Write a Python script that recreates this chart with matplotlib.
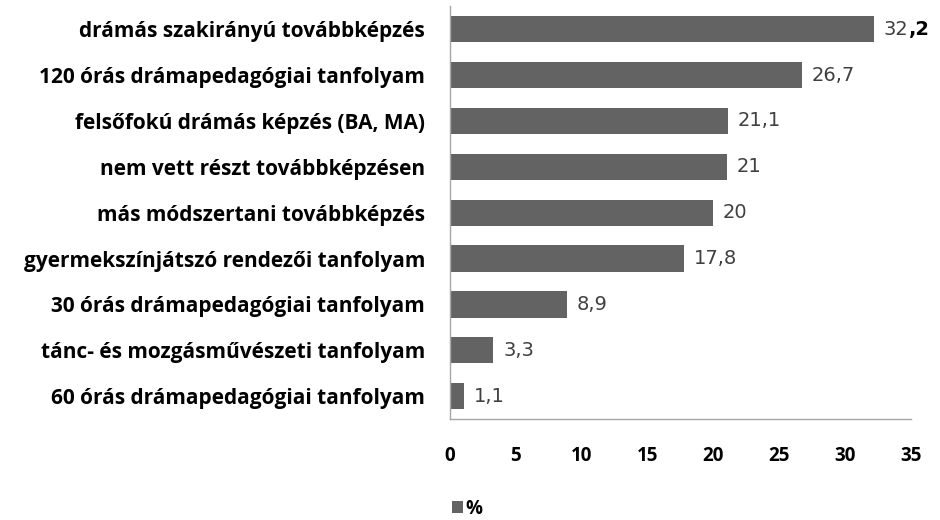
import matplotlib
matplotlib.use('Agg')
import matplotlib.pyplot as plt

# categories, top to bottom as in the chart
categories = [
    'drámás szakirányú továbbképzés',
    '120 órás drámapedagógiai tanfolyam',
    'felsőfokú drámás képzés (BA, MA)',
    'nem vett részt továbbképzésen',
    'más módszertani továbbképzés',
    'gyermekszínjátszó rendezői tanfolyam',
    '30 órás drámapedagógiai tanfolyam',
    'tánc- és mozgásművészeti tanfolyam',
    '60 órás drámapedagógiai tanfolyam',
]
values = [32.2, 26.7, 21.1, 21, 20, 17.8, 8.9, 3.3, 1.1]
value_labels = ['32,2', '26,7', '21,1', '21', '20', '17,8', '8,9', '3,3', '1,1']
xticks = [0, 5, 10, 15, 20, 25, 30, 35]

plt.rcParams['font.family'] = ['Open Sans', 'DejaVu Sans']

bar_color = '#636363'
axis_color = '#a6a6a6'
fs = 15
vfs = 14

fig = plt.figure(figsize=(9.4, 5.2), dpi=100)
ax = fig.add_axes([0.4787, 0.194, 0.4904, 0.794])

y = list(range(len(categories)))[::-1]
ax.barh(y, values, height=0.57, color=bar_color, label='%')

ax.set_xlim(0, 35)
ax.set_ylim(-0.5, len(categories) - 0.5)
ax.set_xticks(xticks)
ax.set_xticklabels([str(t) for t in xticks], fontsize=13.5, fontweight='bold')
ax.set_yticks(y)
ax.set_yticklabels(categories, fontsize=fs, fontweight='bold')
ax.tick_params(axis='both', length=0)
ax.tick_params(axis='x', pad=19)
ax.tick_params(axis='y', pad=18)

for s in ['top', 'right']:
    ax.spines[s].set_visible(False)
for s in ['left', 'bottom']:
    ax.spines[s].set_color(axis_color)
    ax.spines[s].set_linewidth(1)

# value labels next to bar ends
for yi, v, lab in zip(y, values, value_labels):
    if lab == '32,2':
        t = ax.annotate('32', xy=(v, yi), xytext=(7, 0), textcoords='offset points',
                        va='center', ha='left', fontsize=vfs, color='#404040',
                        family='DejaVu Sans')
        ax.annotate(',2', xy=(1, 0.5), xycoords=t, va='center', ha='left',
                    fontsize=vfs, fontweight='bold', color='black',
                    family='DejaVu Sans')
    else:
        ax.annotate(lab, xy=(v, yi), xytext=(7, 0), textcoords='offset points',
                    va='center', ha='left', fontsize=vfs, color='#404040',
                    family='DejaVu Sans')

leg = fig.legend(loc='center', bbox_to_anchor=(0.497, 0.022), frameon=False,
                 handlelength=0.6, handleheight=0.6, handletextpad=0.1,
                 prop={'weight': 'bold', 'size': 13.5})

fig.savefig('out.png', dpi=100)
